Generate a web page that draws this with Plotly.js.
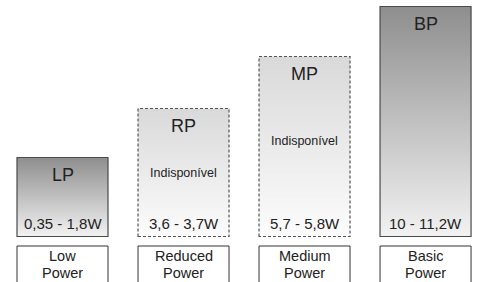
<!DOCTYPE html>
<html>
<head>
<meta charset="utf-8">
<script src="https://cdn.plot.ly/plotly-3.0.1.min.js"></script>
<style>
html,body{margin:0;padding:0;background:#fff;}
#chart{width:480px;height:282px;}
</style>
</head>
<body>
<div id="chart"></div>
<script>
// ---- data ----
var codes = ["LP", "RP", "MP", "BP"];
var levels = [79, 128, 180, 230];               // relative bar heights
var ranges = ["0,35 - 1,8W", "3,6 - 3,7W", "5,7 - 5,8W", "10 - 11,2W"];
var available = [true, false, false, true];
var nameLine1 = ["Low", "Reduced", "Medium", "Basic"];
var nameLine2 = ["Power", "Power", "Power", "Power"];
var unavailableText = "Indisponível";

// ---- styles ----
var FONT = "Arial, 'Liberation Sans', sans-serif";
var TXT = "#222222";
var barW = 0.752;
var midShift = [0, 0, 5.5, 0];

var idx = codes.map(function (_, i) { return i; });

var bars = {
  type: "bar", x: idx, y: levels, width: barW,
  marker: { color: "#cccccc", line: { color: "#4a4a4a", width: 1.2 } },
  hoverinfo: "none", showlegend: false
};
var boxes = {
  type: "bar", x: idx, y: idx.map(function () { return -60; }), base: -9.5, width: barW,
  marker: { color: "#ffffff", line: { color: "#333333", width: 1 } },
  hoverinfo: "none", showlegend: false
};

var ann = [];
idx.forEach(function (i) {
  ann.push({ x: i, y: levels[i], xref: "x", yref: "y", text: codes[i], showarrow: false,
    yanchor: "middle", yshift: -17.5, font: { family: FONT, size: 18, color: TXT } });
  ann.push({ x: i, y: 0, xref: "x", yref: "y", text: ranges[i], showarrow: false,
    yanchor: "middle", yshift: 13.5, font: { family: FONT, size: 15, color: TXT } });
  if (!available[i]) {
    ann.push({ x: i, y: levels[i] / 2, xref: "x", yref: "y", text: unavailableText, showarrow: false,
      yanchor: "middle", yshift: midShift[i], font: { family: FONT, size: 12.5, color: TXT } });
  }
  ann.push({ x: i, y: -9.5, xref: "x", yref: "y", text: nameLine1[i], showarrow: false,
    yanchor: "middle", yshift: -9.3, height: 13, borderpad: 0,
    font: { family: FONT, size: 14.5, color: TXT } });
  ann.push({ x: i, y: -9.5, xref: "x", yref: "y", text: nameLine2[i], showarrow: false,
    yanchor: "middle", yshift: -26.3, height: 13, borderpad: 0,
    font: { family: FONT, size: 14.5, color: TXT } });
});

var layout = {
  width: 480, height: 282,
  margin: { l: 0, r: 0, t: 0, b: 0 },
  paper_bgcolor: "#ffffff", plot_bgcolor: "#ffffff",
  barmode: "overlay",
  xaxis: { range: [-0.5165, 3.450], visible: false, fixedrange: true },
  yaxis: { range: [-45.5, 236.5], visible: false, fixedrange: true },
  annotations: ann
};

Plotly.newPlot("chart", [boxes, bars], layout, { staticPlot: true, displayModeBar: false }).then(function () {
  var svg = document.querySelector("#chart .main-svg");
  var ns = "http://www.w3.org/2000/svg";
  var defs = document.createElementNS(ns, "defs");
  function grad(id, top, bottom) {
    var g = document.createElementNS(ns, "linearGradient");
    g.setAttribute("id", id);
    g.setAttribute("x1", "0"); g.setAttribute("y1", "0");
    g.setAttribute("x2", "0"); g.setAttribute("y2", "1");
    [[0, top], [1, bottom]].forEach(function (s) {
      var st = document.createElementNS(ns, "stop");
      st.setAttribute("offset", s[0]);
      st.setAttribute("stop-color", s[1]);
      g.appendChild(st);
    });
    defs.appendChild(g);
  }
  grad("gSolid", "#8e8e8e", "#f2f2f2");
  grad("gSoft", "#d9d9d9", "#fcfcfc");
  svg.insertBefore(defs, svg.firstChild);
  var traces = document.querySelectorAll("#chart .trace.bars");
  var paths = traces[1].querySelectorAll(".point path");
  paths.forEach(function (p, i) {
    if (available[i]) {
      p.style.fill = "url(#gSolid)";
    } else {
      p.style.fill = "url(#gSoft)";
      p.style.stroke = "#555555";
      p.style.strokeDasharray = "3,2";
    }
  });
});
</script>
</body>
</html>
